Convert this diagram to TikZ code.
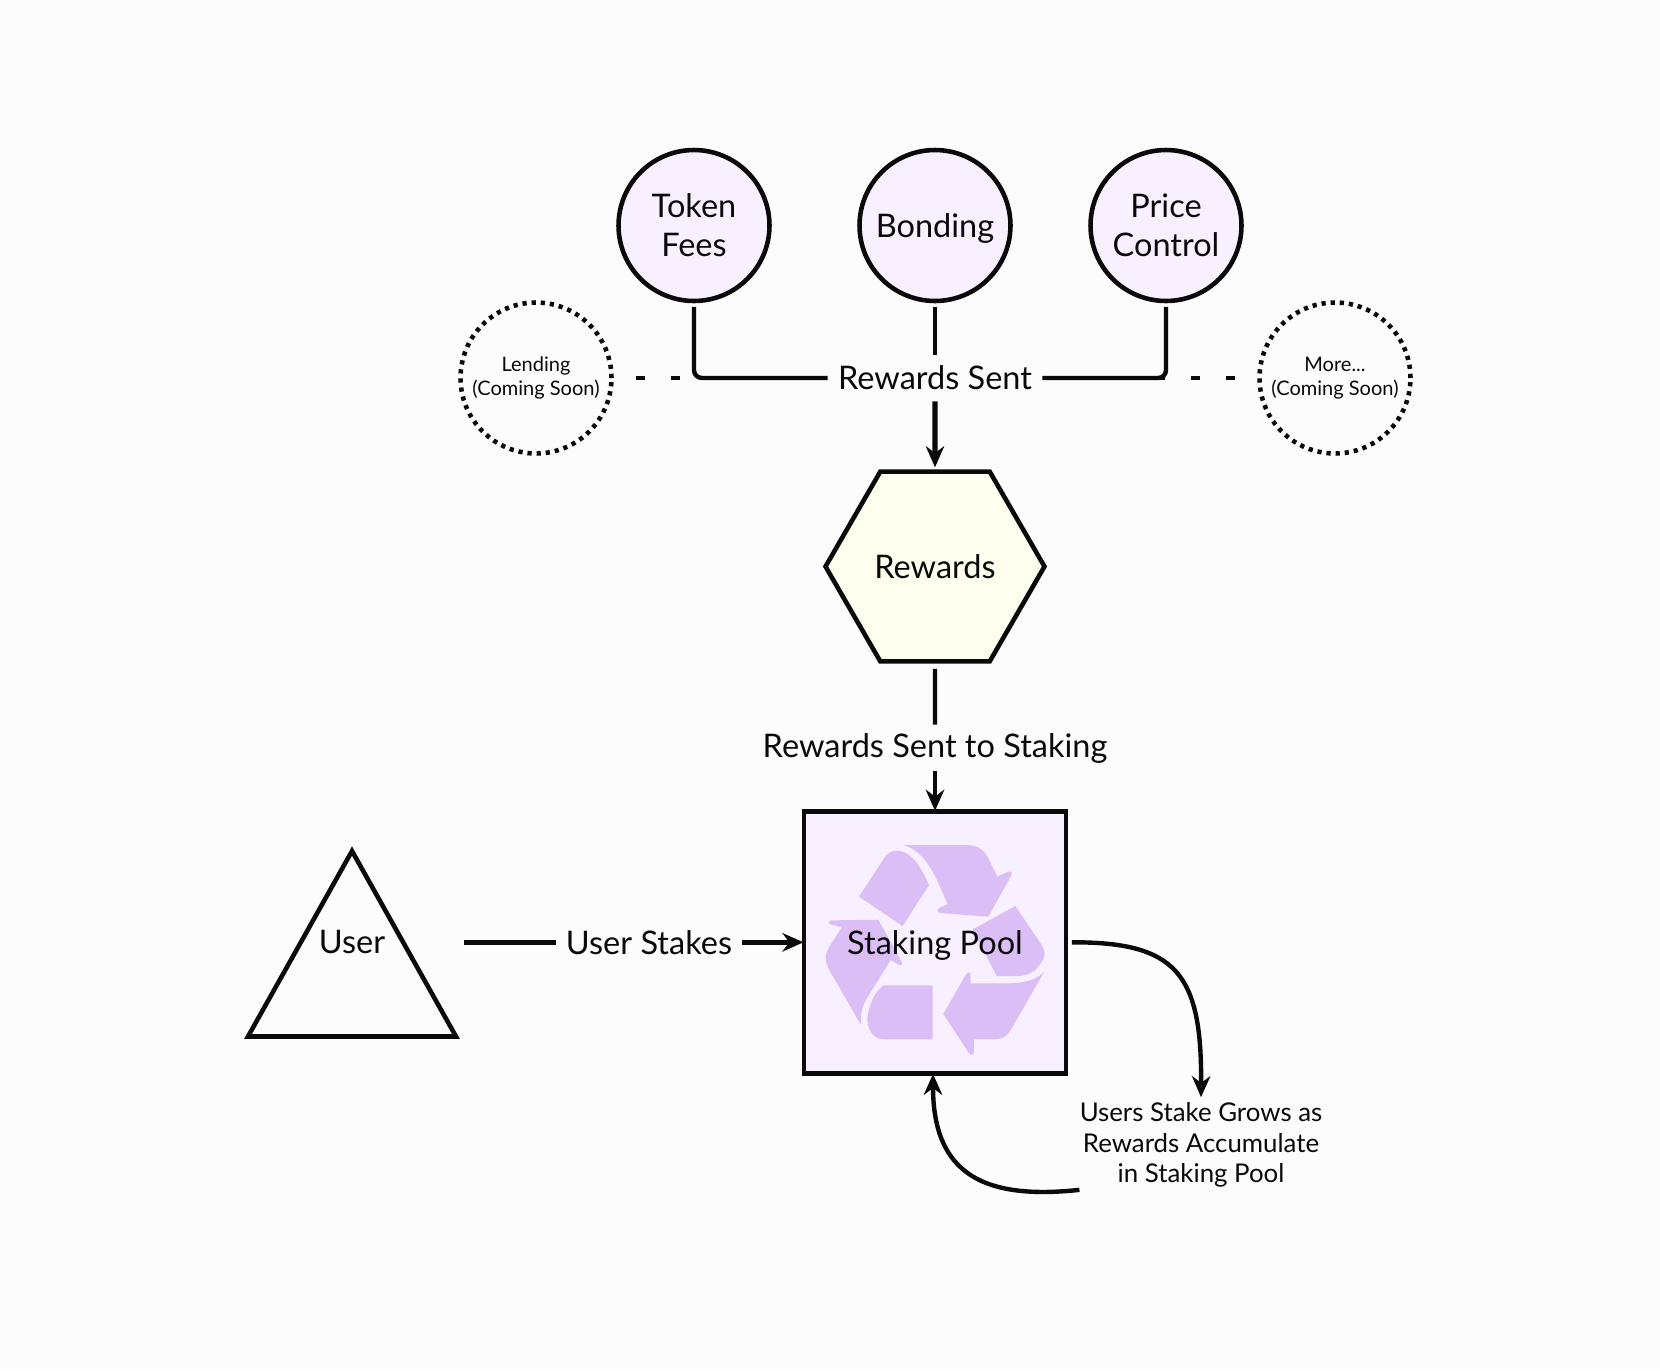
\documentclass[tikz,border=0pt]{standalone}
\usepackage{fontspec}
\setmainfont{Lato}
\usetikzlibrary{arrows.meta,positioning,shapes.geometric,calc}
\definecolor{bgcol}{RGB}{252,252,252}
\definecolor{inkblack}{RGB}{10,10,10}
\definecolor{lilac}{RGB}{248,240,255}
\definecolor{cream}{RGB}{255,255,240}
\definecolor{iconlilac}{RGB}{220,190,247}
\begin{document}
\begin{tikzpicture}[
  x=0.02cm, y=-0.02cm,
  cbox/.style={circle, draw=inkblack, line width=2.6pt, fill=lilac, inner sep=0pt,
               minimum size=3.02cm, align=center, text=inkblack,
               font=\fontsize{18.5}{22.3}\selectfont},
  dbox/.style={circle, draw=inkblack, line width=2.6pt, dash pattern=on 2.4pt off 2.8pt,
               inner sep=0pt, minimum size=3.02cm, align=center, text=inkblack,
               font=\fontsize{11.4}{13.4}\selectfont},
  hbox/.style={regular polygon, regular polygon sides=6,
               draw=inkblack, line width=2.6pt, fill=cream, inner sep=0pt,
               minimum size=4.38cm, text=inkblack, font=\fontsize{18.5}{22}\selectfont},
  pbox/.style={rectangle, draw=inkblack, line width=2.6pt, inner sep=0pt,
               minimum size=5.24cm},
  lbl/.style={inner xsep=5.7pt, inner ysep=0pt, minimum height=0.92cm, text=inkblack,
              font=\fontsize{18.5}{22}\selectfont},
  edge/.style={draw=inkblack, line width=2.5pt},
  arr/.style={edge, -{Stealth[length=12pt, width=10.5pt]}},
  dashedge/.style={edge, dash pattern=on 5.1pt off 14.8pt}
]
\fill[bgcol] (0,0) rectangle (1660,1370);

% Top row
\node[cbox] (token)   at (694,225.5)  {Token\\Fees};
\node[cbox, text depth=0pt] (bonding) at (935,225.5)  {Bonding};
\node[cbox] (price)   at (1166,225.5) {Price\\Control};
\node[dbox] (lending) at (536,378)    {Lending\\(Coming Soon)};
\node[dbox] (more)    at (1335,378)   {More...\\(Coming Soon)};
\node[lbl]  (sent)    at (935,378)    {Rewards Sent};

% Middle
\node[hbox] (rewards) at (935,566.5) {Rewards};
\node[lbl]  (staking) at (935,748)   {Rewards Sent to Staking};

% Pool with its icon
\node[pbox, fill=lilac] (pool) at (935,942.3) {};
\begin{scope}[shift={(780,790)}, scale=1/3]
  \fill[iconlilac] (237,320) -- (310,208) .. controls (322,188) and (335,182) .. (350,182)
    .. controls (395,182) and (425,235) .. (447,285) -- (368,408) -- cycle;
  \fill[iconlilac] (370,165) -- (555,165) .. controls (590,165) and (610,175) .. (625,205)
    -- (652,260) -- (685,245) .. controls (695,241) and (698,250) .. (693,258) -- (625,380)
    -- (482,369) .. controls (470,367) and (470,358) .. (478,354) -- (502,342)
    .. controls (470,265) and (440,185) .. (370,165) -- cycle;
  \fill[iconlilac] (578,418) -- (706,348) -- (785,465) .. controls (800,490) and (795,505) .. (775,530)
    .. controls (760,548) and (740,558) .. (710,558) -- (650,558) -- cycle;
  \fill[iconlilac] (490,672) -- (558,553) .. controls (563,544) and (572,546) .. (572,556) -- (572,580)
    -- (680,580) .. controls (730,580) and (770,570) .. (793,545) -- (695,715)
    .. controls (680,742) and (665,748) .. (640,748) -- (582,748) -- (582,785)
    .. controls (582,796) and (572,798) .. (566,788) -- cycle;
  \fill[iconlilac] (458,586) -- (312,586) .. controls (285,600) and (265,650) .. (262,685)
    .. controls (262,725) and (285,748) .. (310,748) -- (458,748) -- cycle;
  \fill[iconlilac] (155,391) -- (295,389) -- (365,515) .. controls (370,525) and (362,528) .. (355,524)
    -- (332,510) -- (270,610) .. controls (250,640) and (240,665) .. (243,705) -- (145,535)
    .. controls (133,510) and (135,495) .. (148,470) -- (185,412) -- (152,403)
    .. controls (143,400) and (145,391) .. (155,391) -- cycle;
\end{scope}
\node[text=inkblack, font=\fontsize{18.5}{22}\selectfont] (pooltext) at (935,945) {Staking Pool};

% User
\draw[edge, line width=2.6pt] (352,851) -- (456,1036.5) -- (248,1036.5) -- cycle;
\node[minimum width=4.48cm, text=inkblack, font=\fontsize{18.5}{22}\selectfont] (user) at (352,942.3) {User};
\node[lbl]  (stakes) at (649,942.3) {User Stakes};

% Note under the pool
\node[inner sep=0pt, minimum width=4.84cm, minimum height=1.9cm, align=center, text=inkblack,
      font=\fontsize{14.7}{17.4}\selectfont] (grows) at (1201,1145) {Users Stake Grows as\\Rewards Accumulate\\in Staking Pool};

% Connectors
\draw[edge, rounded corners=4.5pt, shorten <=2pt] (token.south) |- (sent.west);
\draw[edge, rounded corners=4.5pt, shorten <=2pt] (price.south) |- (sent.east);
\draw[edge, shorten <=2pt] (bonding.south) -- (sent.north);
\draw[dashedge, shorten <=12.5pt] (lending.east) -- (sent.west);
\draw[dashedge, shorten <=12.5pt] (more.west) -- (sent.east);
\draw[arr, line width=2.9pt, shorten >=1.2pt] (sent.south) -- (rewards.north);
\draw[edge, shorten <=3pt] (rewards.south) -- (staking.north);
\draw[arr, shorten >=-1pt] (staking.south) -- (pool.north);
\draw[edge] (user.east) -- (stakes.west);
\draw[arr, shorten >=-1pt] (stakes.east) -- (pool.west);
\draw[arr, shorten <=2pt] (pool.east) .. controls (1176,942) and (1202,973) .. (grows.north);
\draw[arr, shorten >=-1pt] ($(grows.south west)+(0,-3)$) .. controls (985,1200) and (933,1175) .. ($(pool.south)+(-2,0)$);
\end{tikzpicture}
\end{document}
